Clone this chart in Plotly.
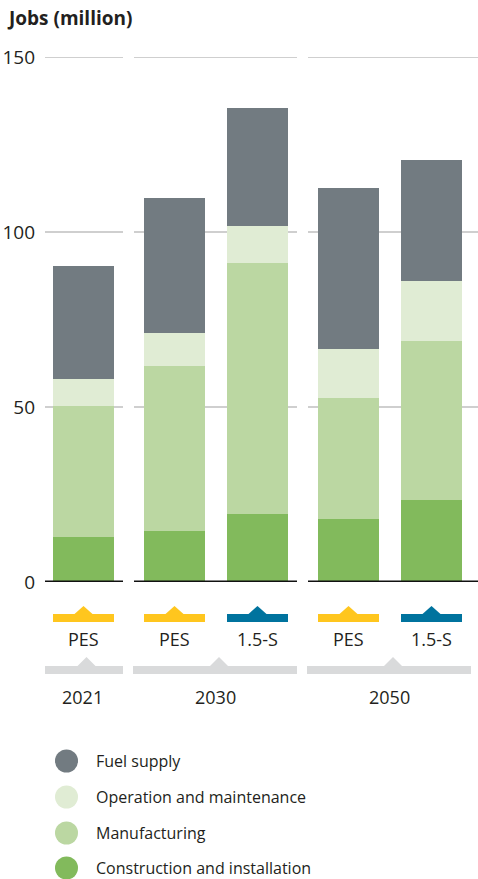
import plotly.graph_objects as go

# data (jobs, million)
years = ["2021", "2030", "2030", "2050", "2050"]
scenarios = ["PES", "PES", "1.5-S", "PES", "1.5-S"]
construction = [12.9, 14.6, 19.4, 18.0, 23.4]
manufacturing = [37.4, 47.1, 71.7, 34.6, 45.5]
operation = [7.7, 9.4, 10.6, 14.0, 17.1]
fuel_supply = [32.3, 38.6, 33.7, 46.0, 34.6]
y_ticks = [0, 50, 100, 150]

series = [
    ("Construction and installation", construction, "#82BA5C"),
    ("Manufacturing", manufacturing, "#BBD7A2"),
    ("Operation and maintenance", operation, "#E0ECD4"),
    ("Fuel supply", fuel_supply, "#727B81"),
]
scen_colors = {"PES": "#FFC61E", "1.5-S": "#00739E"}

W, H = 478, 879
L, TOP, BOT = 45, 57, 582          # plot area in pixels
PH = BOT - TOP
FONT = "Open Sans"
TXT = "#231F20"


def py(pix):
    # pixel row -> paper y
    return (BOT - pix) / PH


# bar layout (x axis is measured in pixels)
bar_w, in_gap, grp_gap = 61, 22, 30
lefts = []
x = 53
for i, yr in enumerate(years):
    if i > 0:
        x += bar_w + (in_gap if yr == years[i - 1] else grp_gap)
    lefts.append(x)
centers = [l + bar_w / 2 for l in lefts]

groups = []
for i, yr in enumerate(years):
    if not groups or groups[-1][0] != yr:
        groups.append([yr, lefts[i], lefts[i] + bar_w])
    else:
        groups[-1][2] = lefts[i] + bar_w

fig = go.Figure()
for name, vals, col in series:
    fig.add_trace(go.Bar(x=centers, y=vals, width=bar_w, name=name,
                         marker=dict(color=col, line_width=0), showlegend=False))

shapes, annots = [], []
# broken gridlines and zero line per group
for gi, (yr, g0, g1) in enumerate(groups):
    x0 = L if gi == 0 else g0 - 10
    x1 = W if gi == len(groups) - 1 else g1 + 9
    for t in y_ticks:
        if t == 0:
            shapes.append(dict(type="line", xref="x", yref="y", x0=x0, x1=x1, y0=0, y1=0,
                               line=dict(color="#111111", width=3), layer="above"))
        else:
            shapes.append(dict(type="line", xref="x", yref="y", x0=x0, x1=x1, y0=t, y1=t,
                               line=dict(color="#A0A0A0", width=1.2), layer="below"))
    # year bracket
    b0, b1 = g0 - 11, g1 + 9
    bc = (b0 + b1) / 2
    tc = bc + 4
    shapes.append(dict(type="rect", xref="x", yref="paper", x0=b0, x1=b1,
                       y0=py(674), y1=py(666), fillcolor="#D9DADB", line_width=0))
    shapes.append(dict(type="path", xref="x", yref="paper",
                       path=f"M {tc-9},{py(666)} L {tc},{py(657)} L {tc+9},{py(666)} Z",
                       fillcolor="#D9DADB", line_width=0))
    annots.append(dict(x=bc, y=py(697), xref="x", yref="paper", text=yr, showarrow=False,
                       yanchor="middle", font=dict(size=18, color=TXT, family=FONT)))

# scenario markers
for c, l, sc in zip(centers, lefts, scenarios):
    col = scen_colors[sc]
    shapes.append(dict(type="rect", xref="x", yref="paper", x0=l, x1=l + bar_w,
                       y0=py(622), y1=py(614), fillcolor=col, line_width=0))
    shapes.append(dict(type="path", xref="x", yref="paper",
                       path=f"M {c-9},{py(614)} L {c},{py(606)} L {c+9},{py(614)} Z",
                       fillcolor=col, line_width=0))
    annots.append(dict(x=c, y=py(639), xref="x", yref="paper", text=sc, showarrow=False,
                       yanchor="middle", font=dict(size=18, color=TXT, family=FONT)))

# legend drawn by hand with round swatches
leg_rows = [761, 797, 833, 868]
for (name, vals, col), row in zip(reversed(series), leg_rows):
    r = 11.5
    shapes.append(dict(type="circle", xref="x", yref="paper", x0=66.5 - r, x1=66.5 + r,
                       y0=py(row + r), y1=py(row - r), fillcolor=col, line_width=0))
    annots.append(dict(x=94, y=py(row), xref="x", yref="paper", text=name, showarrow=False,
                       xanchor="left", yanchor="middle",
                       font=dict(size=16, color=TXT, family=FONT)))

fig.update_layout(
    width=W, height=H,
    barmode="stack",
    plot_bgcolor="white", paper_bgcolor="white",
    margin=dict(l=L, r=0, t=TOP, b=H - BOT),
    title=dict(text="<b>Jobs (million)</b>", xref="container", yref="container",
               x=9 / W, y=1 - 18 / H, xanchor="left", yanchor="middle",
               font=dict(size=19, color=TXT, family=FONT)),
    xaxis=dict(range=[L, W], visible=False, fixedrange=True),
    yaxis=dict(range=[0, 150], tickvals=y_ticks, showgrid=False, zeroline=False,
               showline=False, ticks="", ticklabelstandoff=9,
               tickfont=dict(size=19, color=TXT, family=FONT)),
    shapes=shapes, annotations=annots,
    showlegend=False,
)

# drop the page's default body margin so the figure sits at the window origin
fig.write_html("out.html", config={"displayModeBar": False},
               post_script="document.body.style.margin='0';")
